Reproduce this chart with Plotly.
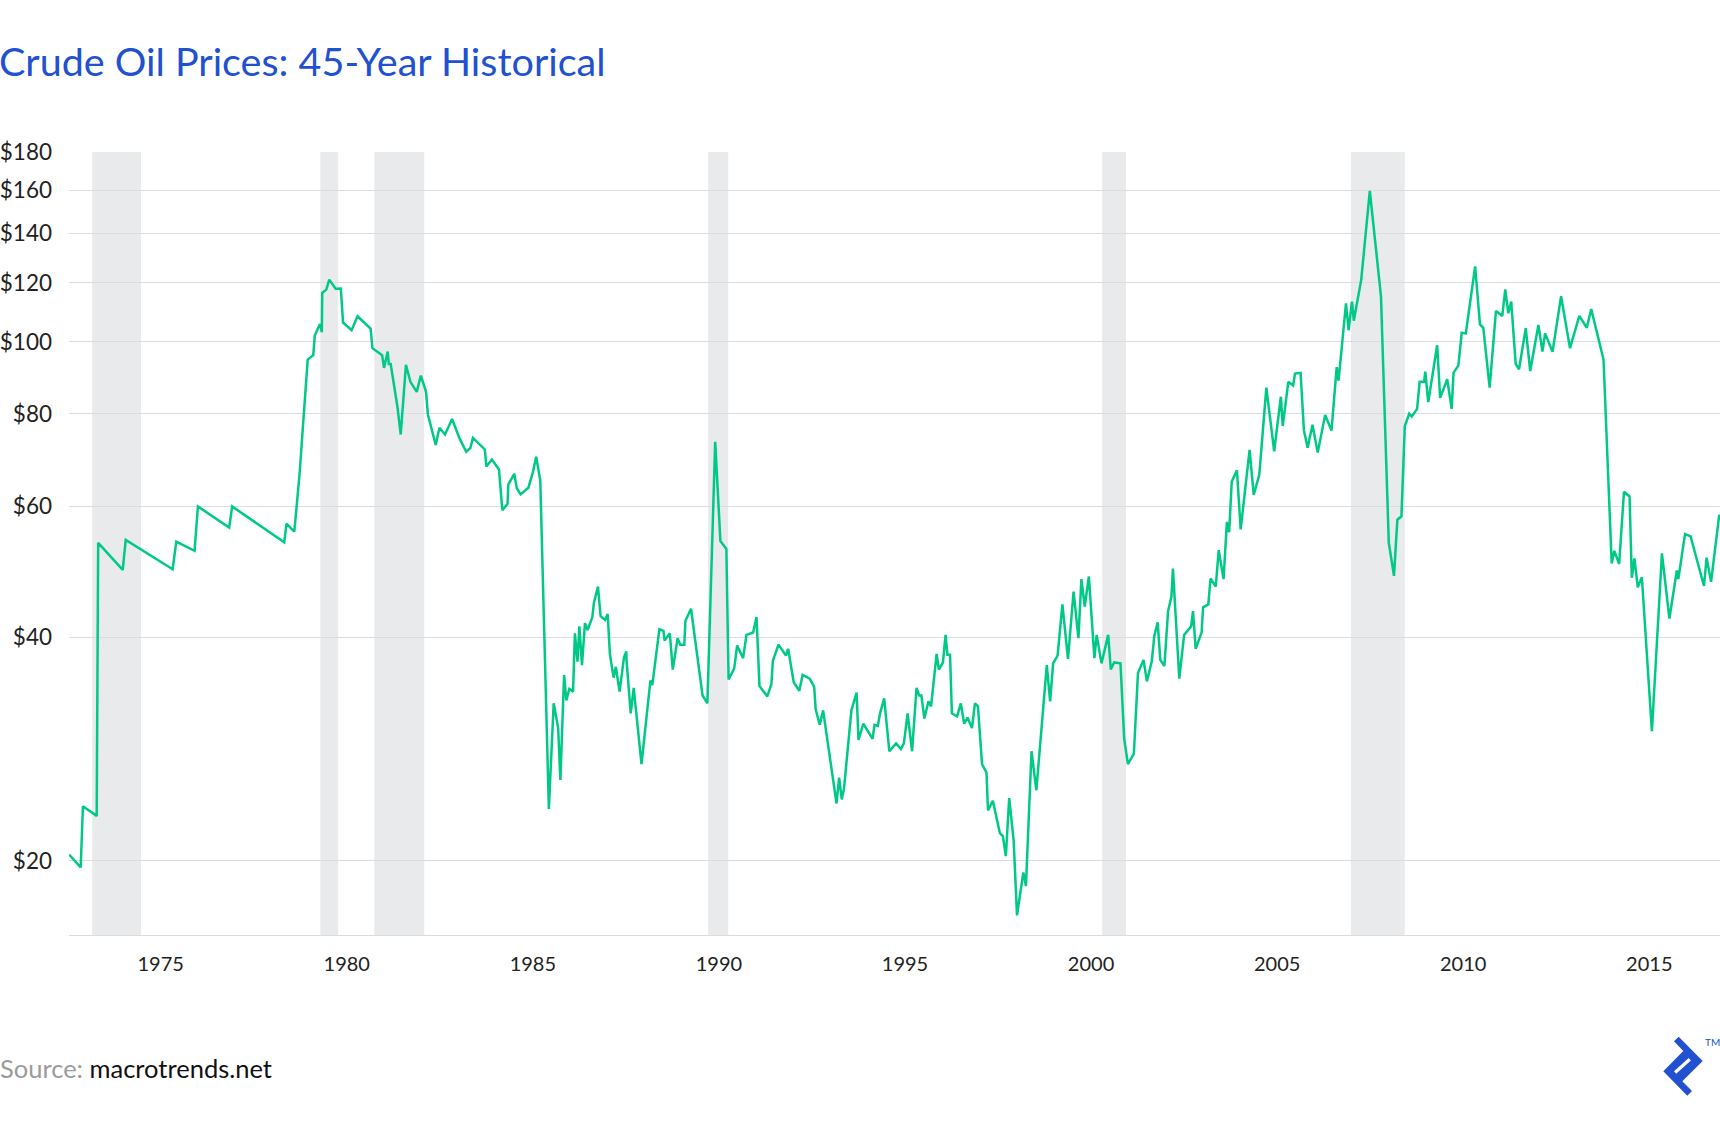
import math
import plotly.graph_objects as go

# ---------------- data ----------------
years = [
    1972.54, 1972.85, 1972.91, 1973.28, 1973.32, 1973.98, 1974.06, 1975.32, 1975.42, 1975.91,
    1976.00, 1976.84, 1976.92, 1978.32, 1978.38, 1978.59, 1978.73, 1978.95, 1979.10, 1979.14,
    1979.28, 1979.33, 1979.34, 1979.45, 1979.53, 1979.70, 1979.84, 1979.90, 1980.13, 1980.29,
    1980.64, 1980.69, 1980.95, 1981.00, 1981.10, 1981.13, 1981.18, 1981.36, 1981.45, 1981.59,
    1981.71, 1981.88, 1981.99, 1982.13, 1982.18, 1982.39, 1982.49, 1982.64, 1982.83, 1983.03,
    1983.21, 1983.32, 1983.39, 1983.71, 1983.75, 1983.90, 1984.09, 1984.18, 1984.32, 1984.34,
    1984.50, 1984.57, 1984.67, 1984.88, 1985.00, 1985.09, 1985.20, 1985.43, 1985.56, 1985.68,
    1985.74, 1985.84, 1985.90, 1985.98, 1986.08, 1986.13, 1986.20, 1986.25, 1986.32, 1986.40,
    1986.47, 1986.60, 1986.64, 1986.75, 1986.82, 1986.94, 1987.01, 1987.07, 1987.17, 1987.23,
    1987.33, 1987.45, 1987.51, 1987.52, 1987.63, 1987.71, 1987.92, 1988.16, 1988.21, 1988.40,
    1988.51, 1988.54, 1988.68, 1988.76, 1988.89, 1988.96, 1989.07, 1989.10, 1989.25, 1989.37,
    1989.56, 1989.69, 1989.90, 1990.04, 1990.20, 1990.26, 1990.41, 1990.49, 1990.65, 1990.74,
    1990.92, 1991.01, 1991.09, 1991.30, 1991.41, 1991.45, 1991.60, 1991.80, 1991.86, 1992.01,
    1992.16, 1992.25, 1992.44, 1992.56, 1992.60, 1992.71, 1992.80, 1993.16, 1993.23, 1993.30,
    1993.36, 1993.56, 1993.70, 1993.75, 1993.88, 1994.13, 1994.18, 1994.27, 1994.33, 1994.44,
    1994.58, 1994.76, 1994.89, 1994.97, 1995.07, 1995.19, 1995.31, 1995.38, 1995.44, 1995.52,
    1995.63, 1995.70, 1995.85, 1995.91, 1996.02, 1996.09, 1996.14, 1996.21, 1996.26, 1996.40,
    1996.50, 1996.59, 1996.68, 1996.80, 1996.88, 1996.96, 1997.07, 1997.19, 1997.23, 1997.36,
    1997.55, 1997.63, 1997.71, 1997.80, 1997.92, 1998.01, 1998.18, 1998.25, 1998.40, 1998.53,
    1998.81, 1998.90, 1998.98, 1999.10, 1999.23, 1999.38, 1999.53, 1999.66, 1999.74, 1999.83,
    1999.94, 2000.09, 2000.15, 2000.28, 2000.46, 2000.53, 2000.62, 2000.79, 2000.89, 2000.99,
    2001.15, 2001.26, 2001.41, 2001.50, 2001.63, 2001.70, 2001.79, 2001.86, 2001.97, 2002.07,
    2002.16, 2002.20, 2002.37, 2002.50, 2002.69, 2002.74, 2002.81, 2002.97, 2003.01, 2003.15,
    2003.21, 2003.35, 2003.43, 2003.56, 2003.65, 2003.71, 2003.78, 2003.92, 2004.02, 2004.26,
    2004.37, 2004.52, 2004.71, 2004.92, 2005.10, 2005.15, 2005.30, 2005.43, 2005.48, 2005.63,
    2005.72, 2005.82, 2005.95, 2006.09, 2006.29, 2006.46, 2006.60, 2006.65, 2006.85, 2006.92,
    2007.01, 2007.06, 2007.26, 2007.49, 2007.79, 2008.00, 2008.14, 2008.23, 2008.34, 2008.43,
    2008.55, 2008.62, 2008.76, 2008.83, 2008.95, 2008.98, 2009.06, 2009.30, 2009.38, 2009.57,
    2009.69, 2009.74, 2009.87, 2009.96, 2010.07, 2010.32, 2010.45, 2010.54, 2010.71, 2010.88,
    2011.05, 2011.13, 2011.21, 2011.29, 2011.41, 2011.50, 2011.68, 2011.80, 2012.02, 2012.13,
    2012.20, 2012.40, 2012.63, 2012.87, 2013.12, 2013.32, 2013.44, 2013.77, 2013.99, 2014.06,
    2014.19, 2014.32, 2014.47, 2014.53, 2014.60, 2014.69, 2014.80, 2015.07, 2015.34, 2015.54,
    2015.74, 2015.78, 2015.96, 2016.11, 2016.47, 2016.54, 2016.66, 2016.88,
]

prices = [
    20.4, 19.6, 23.7, 23.0, 53.6, 49.3, 54.1, 49.4, 53.8, 52.3,
    60.0, 56.2, 60.0, 53.7, 56.9, 55.5, 66.2, 94.6, 95.9, 101.9,
    105.6, 103.0, 116.3, 117.5, 121.2, 117.8, 117.9, 106.1, 103.6, 108.2,
    104.1, 98.0, 95.9, 92.2, 97.0, 93.3, 93.3, 81.8, 75.0, 93.1,
    88.3, 85.6, 90.0, 85.6, 79.8, 72.6, 76.6, 75.0, 78.7, 74.1,
    71.1, 71.9, 74.2, 71.6, 67.9, 69.4, 67.3, 59.3, 60.5, 64.2,
    66.4, 63.5, 62.3, 63.6, 66.7, 70.0, 65.0, 23.5, 32.6, 30.2,
    25.7, 35.6, 32.9, 34.1, 33.8, 40.5, 37.1, 41.4, 36.7, 41.8,
    40.9, 42.6, 44.5, 46.8, 42.7, 42.2, 43.0, 38.0, 35.3, 36.5,
    33.8, 37.6, 38.3, 37.1, 31.6, 34.2, 27.0, 35.0, 34.5, 41.0,
    40.8, 39.6, 40.5, 36.2, 39.9, 39.1, 39.1, 42.1, 43.7, 39.3,
    33.4, 32.6, 73.3, 53.9, 52.6, 35.1, 36.3, 39.0, 37.5, 40.3,
    40.6, 42.6, 34.4, 33.3, 34.6, 37.2, 39.1, 37.8, 38.6, 34.8,
    33.9, 35.6, 35.2, 34.3, 32.0, 30.5, 31.9, 23.9, 25.9, 24.2,
    25.0, 31.9, 33.7, 29.1, 30.6, 29.2, 30.5, 30.4, 31.6, 33.1,
    28.1, 28.8, 28.3, 28.8, 31.6, 28.1, 34.2, 33.4, 33.4, 31.1,
    32.8, 32.3, 38.0, 36.2, 37.0, 40.3, 37.9, 37.9, 31.6, 31.3,
    32.6, 30.6, 31.2, 30.2, 32.6, 32.3, 27.0, 26.3, 23.4, 24.1,
    21.8, 21.6, 20.3, 24.3, 21.3, 16.9, 19.3, 18.5, 28.1, 24.9,
    36.7, 32.8, 36.9, 37.8, 44.3, 37.4, 46.1, 39.9, 47.9, 44.0,
    48.3, 37.5, 40.3, 36.9, 40.3, 36.2, 37.0, 36.9, 29.2, 27.0,
    27.9, 35.8, 37.3, 34.9, 37.1, 40.2, 41.9, 37.3, 36.6, 43.4,
    45.4, 49.5, 35.2, 40.3, 41.4, 43.4, 38.6, 40.6, 43.9, 44.3,
    48.0, 46.8, 52.4, 47.9, 57.2, 55.4, 64.8, 67.1, 55.9, 71.5,
    62.2, 66.2, 86.7, 71.2, 84.3, 77.0, 88.3, 87.3, 90.6, 90.8,
    75.9, 72.0, 77.3, 70.9, 79.7, 75.9, 92.4, 88.6, 112.6, 103.6,
    113.2, 106.7, 121.2, 159.6, 115.1, 53.6, 48.4, 57.6, 58.2, 77.0,
    80.0, 79.3, 81.2, 88.3, 88.3, 91.1, 82.9, 98.9, 84.0, 89.0,
    81.2, 90.8, 92.9, 102.8, 102.6, 126.3, 105.5, 104.4, 86.7, 110.0,
    108.3, 117.6, 109.2, 113.2, 93.3, 91.8, 104.3, 91.3, 105.3, 97.0,
    102.6, 96.9, 115.1, 98.0, 108.3, 104.4, 110.6, 94.6, 50.3, 52.3,
    50.2, 62.8, 61.9, 48.1, 51.1, 46.7, 48.2, 29.9, 51.9, 42.4,
    49.2, 47.9, 55.1, 54.7, 46.9, 51.2, 47.5, 58.5,
]

# recession periods (shaded bands), decimal years
rec_start = [1973.16, 1979.29, 1980.74, 1989.71, 2000.30, 2006.98]
rec_end = [1974.47, 1979.77, 1982.08, 1990.25, 2000.94, 2008.43]

x_ticks = [1975, 1980, 1985, 1990, 1995, 2000, 2005, 2010, 2015]
x_tick_labels = ["1975", "1980", "1985", "1990", "1995", "2000", "2005", "2010", "2015"]
y_ticks = [20, 40, 60, 80, 100, 120, 140, 160, 180]
y_tick_labels = ["$20", "$40", "$60", "$80", "$100", "$120", "$140", "$160", "$180"]

x_range = [1972.536, 2016.90]
y_range = [15.9, 180]

# ---------------- layout constants ----------------
W, H = 1720, 1136
PL, PR, PT, PB = 69, 1720, 152, 935
FONT = "Lato"
LINE_GREEN = "#00c987"
BLUE = "#2150d0"
GRID = "#dcdcdc"
BAND = "#e9eaec"
TEXT = "#222222"


def pxx(x):
    return (x - PL) / (PR - PL)


def pyy(y):
    return (PB - y) / (PB - PT)


fig = go.Figure()

fig.add_trace(go.Scatter(
    x=years, y=prices, mode="lines",
    line=dict(color=LINE_GREEN, width=2.5),
    hoverinfo="skip", showlegend=False,
))

shapes = []
for s, e in zip(rec_start, rec_end):
    shapes.append(dict(type="rect", xref="x", yref="paper", x0=s, x1=e, y0=0, y1=1,
                       fillcolor=BAND, line=dict(width=0), layer="below"))

# logo (decoration)
logo_pts = [(1674, 1041.3), (1678.7, 1036.7), (1702.7, 1061), (1682.3, 1081.3),
            (1692, 1091), (1687.3, 1095.7), (1663.3, 1071.3), (1683.3, 1051)]
path = "M " + " L ".join(f"{pxx(a):.5f},{pyy(b):.5f}" for a, b in logo_pts) + " Z"
shapes.append(dict(type="path", xref="paper", yref="paper", path=path,
                   fillcolor=BLUE, line=dict(width=0), layer="above"))
slot_pts = [(1674, 1071.3), (1688.7, 1058), (1690.9, 1060.4), (1676.2, 1073.7)]
path2 = "M " + " L ".join(f"{pxx(a):.5f},{pyy(b):.5f}" for a, b in slot_pts) + " Z"
shapes.append(dict(type="path", xref="paper", yref="paper", path=path2,
                   fillcolor="white", line=dict(width=0), layer="above"))

annotations = [
    dict(text="Crude Oil Prices: 45-Year Historical", xref="paper", yref="paper",
         x=pxx(-3), y=pyy(60), xanchor="left", yanchor="middle", showarrow=False,
         font=dict(family=FONT, size=39.5, color=BLUE)),
    dict(text='<span style="color:#9b9b9b">Source:</span> macrotrends.net',
         xref="paper", yref="paper", x=pxx(-2), y=pyy(1068), xanchor="left",
         yanchor="middle", showarrow=False,
         font=dict(family=FONT, size=25.5, color="#111111")),
    dict(text="TM", xref="paper", yref="paper", x=pxx(1703), y=pyy(1042),
         xanchor="left", yanchor="middle", showarrow=False,
         font=dict(family=FONT, size=10, color=BLUE)),
]

fig.update_layout(
    width=W, height=H, autosize=False,
    margin=dict(l=PL, r=W - PR, t=PT, b=H - PB, pad=0),
    paper_bgcolor="white", plot_bgcolor="white",
    shapes=shapes, annotations=annotations,
    showlegend=False,
    xaxis=dict(
        range=x_range, tickmode="array", tickvals=x_ticks, ticktext=x_tick_labels,
        showgrid=False, zeroline=False, showline=True, linecolor=GRID, linewidth=1.3,
        ticks="", ticklabelstandoff=11,
        tickfont=dict(family=FONT, size=20, color=TEXT),
    ),
    yaxis=dict(
        type="log", range=[math.log10(y_range[0]), math.log10(y_range[1])],
        tickmode="array", tickvals=y_ticks, ticktext=y_tick_labels,
        showgrid=True, gridcolor=GRID, gridwidth=1.3, zeroline=False, showline=False,
        ticks="", ticklabelstandoff=16,
        tickfont=dict(family=FONT, size=22.5, color=TEXT),
    ),
)

fig.write_html("out.html", config={"displayModeBar": False})
